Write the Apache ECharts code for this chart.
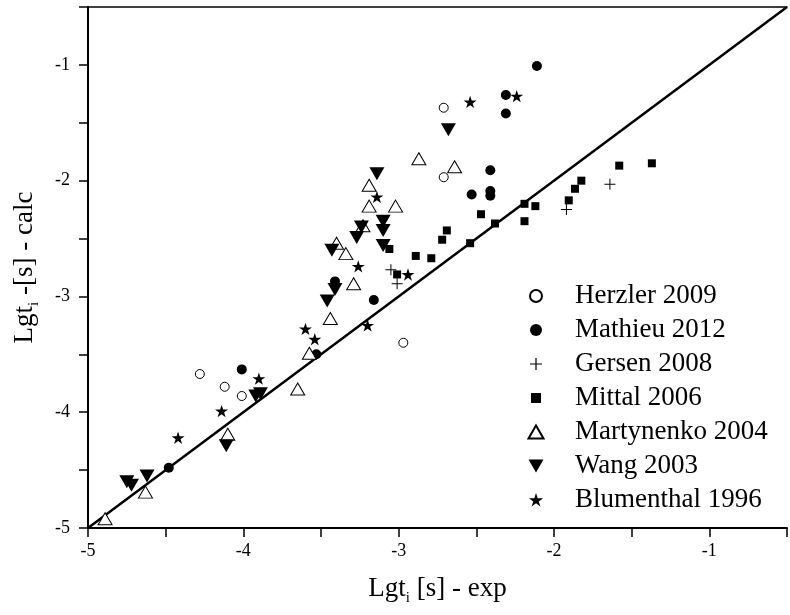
<!DOCTYPE html>
<html><head><meta charset="utf-8">
<script src="https://cdn.jsdelivr.net/npm/echarts@6/dist/echarts.min.js"></script>
<style>html,body{margin:0;padding:0;background:#fff}#c{width:790px;height:615px}</style>
</head><body><div id="c"></div>
<script>
const xTicks = [-5, -4, -3, -2, -1];
const yTicks = [-5, -4, -3, -2, -1];
const seriesNames = ['Herzler 2009', 'Mathieu 2012', 'Gersen 2008', 'Mittal 2006', 'Martynenko 2004', 'Wang 2003', 'Blumenthal 1996'];
const parity = [-5, -0.5];

const herzler = [[-4.28,-3.67],[-4.12,-3.78],[-4.01,-3.86],[-2.71,-1.37],[-2.71,-1.97],[-2.97,-3.40]];
const mathieu = [[-4.48,-4.48],[-4.01,-3.63],[-3.53,-3.50],[-3.41,-2.87],[-3.16,-3.03],[-2.53,-2.12],[-2.41,-1.91],[-2.41,-2.09],[-2.41,-2.13],[-2.31,-1.26],[-2.31,-1.42],[-2.11,-1.01]];
const gersen = [[-3.05,-2.77],[-3.01,-2.89],[-1.92,-2.25],[-1.64,-2.03]];
const mittal = [[-3.06,-2.59],[-3.01,-2.81],[-2.89,-2.65],[-2.79,-2.67],[-2.72,-2.51],[-2.69,-2.43],[-2.54,-2.54],[-2.47,-2.29],[-2.38,-2.37],[-2.19,-2.20],[-2.19,-2.35],[-2.12,-2.22],[-1.905,-2.17],[-1.865,-2.07],[-1.824,-2.00],[-1.58,-1.87],[-1.37,-1.85]];
const martynenko = [[-4.89,-4.92],[-4.63,-4.69],[-4.10,-4.19],[-3.65,-3.80],[-3.575,-3.49],[-3.44,-3.19],[-3.40,-2.54],[-3.34,-2.63],[-3.29,-2.89],[-3.23,-2.39],[-3.19,-2.04],[-3.19,-2.22],[-3.02,-2.22],[-2.87,-1.81],[-2.64,-1.88]];
const wang = [[-4.75,-4.60],[-4.72,-4.63],[-4.62,-4.55],[-4.11,-4.29],[-3.92,-3.86],[-3.89,-3.84],[-3.46,-3.04],[-3.41,-2.94],[-3.43,-2.60],[-3.27,-2.49],[-3.24,-2.40],[-3.14,-1.94],[-3.10,-2.35],[-3.10,-2.43],[-3.10,-2.56],[-2.68,-1.56]];
const blumenthal = [[-4.42,-4.22],[-4.14,-3.99],[-3.90,-3.71],[-3.60,-3.28],[-3.54,-3.37],[-3.26,-2.74],[-3.20,-3.25],[-3.14,-2.14],[-2.94,-2.81],[-2.54,-1.32],[-2.24,-1.27]];

const FONT = "'Liberation Serif', 'Times New Roman', serif";
const BOX = 'M0,0M44,20';
const starPath = 'M10,3L11.69,8.18L17.13,8.18L12.73,11.39L14.41,16.57L10,13.37L5.59,16.57L7.27,11.39L2.87,8.18L8.31,8.18Z';
const symPlus = 'path://M5,0H6V5H11V6H6V11H5V6H0V5H5Z';
const symDown = 'path://M0,0H15L7.5,13Z';
const symStar = 'path://' + starPath;
const legendIcons = [
  'path://' + BOX + 'M4,10A6,6,0,1,1,16,10A6,6,0,1,1,4,10Z',
  'path://' + BOX + 'M4,10A6,6,0,1,1,16,10A6,6,0,1,1,4,10Z',
  'path://' + BOX + 'M9.4,4H10.6V9.4H16V10.6H10.6V16H9.4V10.6H4V9.4H9.4Z',
  'path://' + BOX + 'M5,5H15V15H5Z',
  'path://' + BOX + 'M10,3.5L17.5,16.5L2.5,16.5Z',
  'path://' + BOX + 'M2.5,3.5H17.5L10,16.5Z',
  'path://' + BOX + starPath
];

const openStyle = {color: '#fff', borderColor: '#000', borderWidth: 1, opacity: 1};
const fillStyle = {color: '#000', borderWidth: 0, opacity: 1};

function tickFmt(list) {
  return v => list.some(t => Math.abs(t - v) < 1e-9) ? String(v) : '';
}
function axisName(txt) {
  return '{m|Lgt}{s|i}{m| ' + txt + '}';
}
const nameRich = {
  m: {fontSize: 27, fontFamily: FONT, color: '#000', lineHeight: 34},
  s: {fontSize: 15, fontFamily: FONT, color: '#000', lineHeight: 10, verticalAlign: 'bottom'}
};

const chart = echarts.init(document.getElementById('c'), null, {renderer: 'canvas'});
chart.setOption({
  backgroundColor: '#fff',
  animation: false,
  grid: {left: 88, right: 0, top: 7, bottom: 87},
  legend: {
    orient: 'vertical', left: 520, top: 274, itemWidth: 44, itemHeight: 20, itemGap: 0,
    selectedMode: false,
    textStyle: {fontFamily: FONT, fontSize: 27, color: '#000', lineHeight: 34},
    data: seriesNames.map((n, i) => ({name: n, icon: legendIcons[i]}))
  },
  xAxis: [{
    type: 'value', min: parity[0], max: parity[1], interval: 0.5,
    axisLine: {lineStyle: {color: '#000', width: 2}},
    axisTick: {length: 9, lineStyle: {color: '#000', width: 1.5}},
    axisLabel: {formatter: tickFmt(xTicks), fontFamily: FONT, fontSize: 18, color: '#000', margin: 14},
    splitLine: {show: false},
    name: axisName('[s] - exp'), nameLocation: 'middle', nameGap: 44,
    nameTextStyle: {rich: nameRich}
  }, {
    type: 'value', position: 'top', min: parity[0], max: parity[1],
    axisLine: {show: true, lineStyle: {color: '#000', width: 1.5}},
    axisTick: {show: false}, axisLabel: {show: false}, splitLine: {show: false}
  }],
  yAxis: {
    type: 'value', min: parity[0], max: parity[1], interval: 0.5,
    axisLine: {lineStyle: {color: '#000', width: 2}},
    axisTick: {length: 9, lineStyle: {color: '#000', width: 1.5}},
    axisLabel: {formatter: tickFmt(yTicks), fontFamily: FONT, fontSize: 18, color: '#000', margin: 18},
    splitLine: {show: false},
    name: axisName('-[s] - calc'), nameLocation: 'middle', nameGap: 46,
    nameTextStyle: {rich: nameRich}
  },
  series: [
    {type: 'line', data: [[parity[0], parity[0]], [parity[1], parity[1]]], symbol: 'none', silent: true,
     lineStyle: {color: '#000', width: 2.5}, z: 1},
    {name: seriesNames[0], type: 'scatter', data: herzler, symbol: 'circle', symbolSize: 9, itemStyle: openStyle, z: 3},
    {name: seriesNames[1], type: 'scatter', data: mathieu, symbol: 'circle', symbolSize: 10, itemStyle: fillStyle, z: 3},
    {name: seriesNames[2], type: 'scatter', data: gersen, symbol: symPlus, symbolSize: 11, itemStyle: fillStyle, z: 3},
    {name: seriesNames[3], type: 'scatter', data: mittal, symbol: 'rect', symbolSize: 8, itemStyle: fillStyle, z: 3},
    {name: seriesNames[4], type: 'scatter', data: martynenko, symbol: 'triangle', symbolSize: [14, 12], itemStyle: openStyle, z: 3},
    {name: seriesNames[5], type: 'scatter', data: wang, symbol: symDown, symbolSize: [15, 13], itemStyle: fillStyle, z: 3},
    {name: seriesNames[6], type: 'scatter', data: blumenthal, symbol: symStar, symbolSize: 13, symbolKeepAspect: true, itemStyle: fillStyle, z: 3}
  ]
});
</script></body></html>
